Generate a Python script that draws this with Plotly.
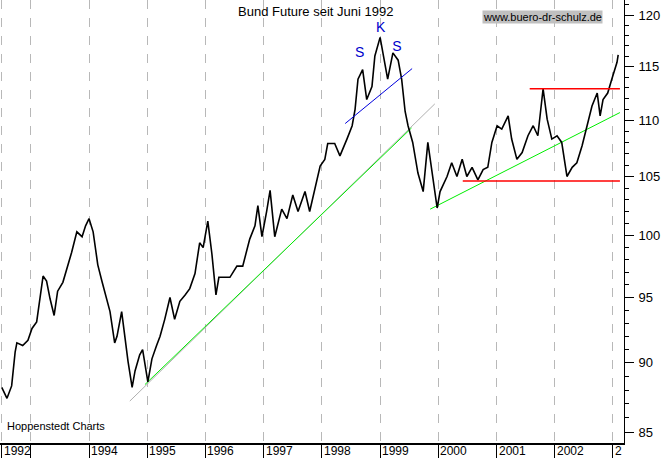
import plotly.graph_objects as go
import math

years = [1992.50,1992.59,1992.67,1992.73,1992.76,1992.86,1992.95,1993.02,1993.10,1993.15,1993.21,1993.27,1993.33,1993.40,1993.46,1993.55,1993.62,1993.70,1993.79,1993.88,1993.94,1994.00,1994.07,1994.15,1994.22,1994.31,1994.36,1994.44,1994.48,1994.56,1994.62,1994.67,1994.74,1994.79,1994.87,1994.92,1995.01,1995.08,1995.16,1995.22,1995.30,1995.39,1995.47,1995.56,1995.65,1995.73,1995.82,1995.90,1995.96,1996.04,1996.11,1996.18,1996.23,1996.42,1996.54,1996.64,1996.76,1996.85,1996.90,1996.97,1997.05,1997.11,1997.19,1997.31,1997.40,1997.50,1997.59,1997.71,1997.79,1997.88,1997.97,1998.05,1998.10,1998.22,1998.31,1998.43,1998.52,1998.57,1998.62,1998.70,1998.77,1998.86,1998.91,1999.00,1999.05,1999.13,1999.22,1999.31,1999.37,1999.43,1999.48,1999.56,1999.65,1999.74,1999.82,1999.91,1999.98,2000.03,2000.15,2000.23,2000.32,2000.41,2000.49,2000.58,2000.68,2000.77,2000.85,2000.92,2001.01,2001.09,2001.20,2001.26,2001.35,2001.44,2001.54,2001.63,2001.71,2001.80,2001.87,2001.95,2002.04,2002.12,2002.21,2002.30,2002.38,2002.47,2002.55,2002.64,2002.73,2002.78,2002.83,2002.91,2002.98,2003.07,2003.09]
prices = [88.2,87.4,88.3,90.8,91.5,91.3,91.7,92.6,93.1,94.7,96.7,96.3,94.9,93.6,95.5,96.2,97.3,98.6,100.3,99.9,100.8,101.4,100.3,97.6,96.3,94.7,93.9,91.5,92.0,93.9,91.7,90.1,88.2,89.4,90.6,91.0,88.6,90.3,91.3,92.0,93.3,95.0,93.3,94.7,95.2,95.7,96.9,99.4,99.0,101.2,98.5,95.2,96.6,96.6,97.5,97.5,99.7,100.8,102.5,99.9,102.0,103.8,99.9,102.2,101.4,103.4,102.0,103.7,102.0,103.9,105.9,106.5,107.9,107.9,106.8,108.3,109.5,111.0,113.8,114.7,111.9,113.1,116.0,117.8,116.3,113.8,116.3,115.6,113.8,110.8,109.5,108.0,105.3,103.7,108.0,105.0,102.3,103.7,105.0,106.2,105.0,106.5,105.0,105.8,104.7,105.6,105.8,108.0,109.5,109.2,110.4,108.3,106.5,107.1,108.6,109.5,108.6,112.9,110.1,108.3,108.6,108.0,105.0,105.8,106.2,107.7,109.5,111.3,112.5,110.4,111.9,112.5,113.8,115.4,116.1]

gray_x = [1994.70, 1999.94]; gray_y = [87.2, 111.5]
green1_x = [1994.96, 1999.54]; green1_y = [88.4, 109.3]
green2_x = [1999.86, 2003.12]; green2_y = [102.2, 110.7]
blue_x = [1998.40, 1999.55]; blue_y = [109.7, 114.8]
red_top_x = [2001.57, 2003.12]; red_top_y = [112.9, 112.9]
red_bot_x = [2000.42, 2003.12]; red_bot_y = [104.6, 104.6]
sks_x = [1998.65, 1999.01, 1999.29]; sks_y = [116.2, 118.7, 116.8]; sks_t = ["S", "K", "S"]

tick_vals = [1992.5] + list(range(1993, 2004))
tick_text = ["1992", "", "1994", "1995", "1996", "1997", "1998", "1999", "2000", "2001", "2002", "2"]
y_ticks = [85, 90, 95, 100, 105, 110, 115, 120]

fig = go.Figure()
fig.add_trace(go.Scatter(x=gray_x, y=gray_y, mode="lines", line=dict(color="#b0b0b0", width=1)))
fig.add_trace(go.Scatter(x=green1_x, y=green1_y, mode="lines", line=dict(color="#00ee00", width=1)))
fig.add_trace(go.Scatter(x=green2_x, y=green2_y, mode="lines", line=dict(color="#00ee00", width=1)))
fig.add_trace(go.Scatter(x=years, y=prices, mode="lines", line=dict(color="black", width=1.6)))
fig.add_trace(go.Scatter(x=blue_x, y=blue_y, mode="lines", line=dict(color="#0000dd", width=1)))
fig.add_trace(go.Scatter(x=red_top_x, y=red_top_y, mode="lines", line=dict(color="#ff0000", width=1.5)))
fig.add_trace(go.Scatter(x=red_bot_x, y=red_bot_y, mode="lines", line=dict(color="#ff0000", width=1.5)))
fig.add_trace(go.Scatter(x=sks_x, y=sks_y, mode="text", text=sks_t,
                         textfont=dict(color="#0000cc", size=14, family="Liberation Sans")))

annots = [
    dict(text="Bund Future seit Juni 1992", xref="paper", yref="paper", x=0.506, y=0.995,
         showarrow=False, yanchor="top", font=dict(size=13)),
    dict(text="www.buero-dr-schulz.de", xref="paper", yref="paper", x=0.967, y=0.978,
         showarrow=False, xanchor="right", yanchor="top", bgcolor="#c0c0c0",
         font=dict(size=11, color="black"), borderpad=0),
    dict(text="Hoppenstedt Charts", xref="paper", yref="paper", x=0.008, y=0.02,
         showarrow=False, xanchor="left", yanchor="bottom", font=dict(size=11)),
]
for v, t in zip(tick_vals, tick_text):
    if t:
        annots.append(dict(text=t, x=v, xref="x", yref="paper", y=0, yanchor="top",
                           xanchor="left", xshift=0, yshift=1, showarrow=False,
                           font=dict(size=12)))

fig.update_layout(
    width=669, height=458, showlegend=False,
    margin=dict(l=0, r=45, t=0, b=15),
    paper_bgcolor="white", plot_bgcolor="white",
    font=dict(family="Liberation Sans", size=13, color="black"),
    xaxis=dict(range=[1992.47, 2003.19], tickvals=tick_vals, showticklabels=False,
               showgrid=True, gridcolor="#b8b8b8", griddash="dash", gridwidth=1,
               ticks="outside", ticklen=14, tickcolor="black",
               showline=True, linecolor="black", linewidth=2, zeroline=False),
    yaxis=dict(type="log", range=[math.log10(84.23), math.log10(121.5)], side="right",
               tickvals=y_ticks, ticktext=[str(v) for v in y_ticks], showgrid=False,
               ticks="outside", ticklen=9, tickcolor="black", showline=True,
               linecolor="black", linewidth=1, zeroline=False, ticklabelstandoff=2,
               minor=dict(tickvals=list(range(85, 122)), ticks="outside", ticklen=4, tickcolor="black")),
    annotations=annots,
)
fig.write_html("out.html", config={"displayModeBar": False},
               post_script="document.body.style.margin='0px';document.body.style.overflow='hidden';")
